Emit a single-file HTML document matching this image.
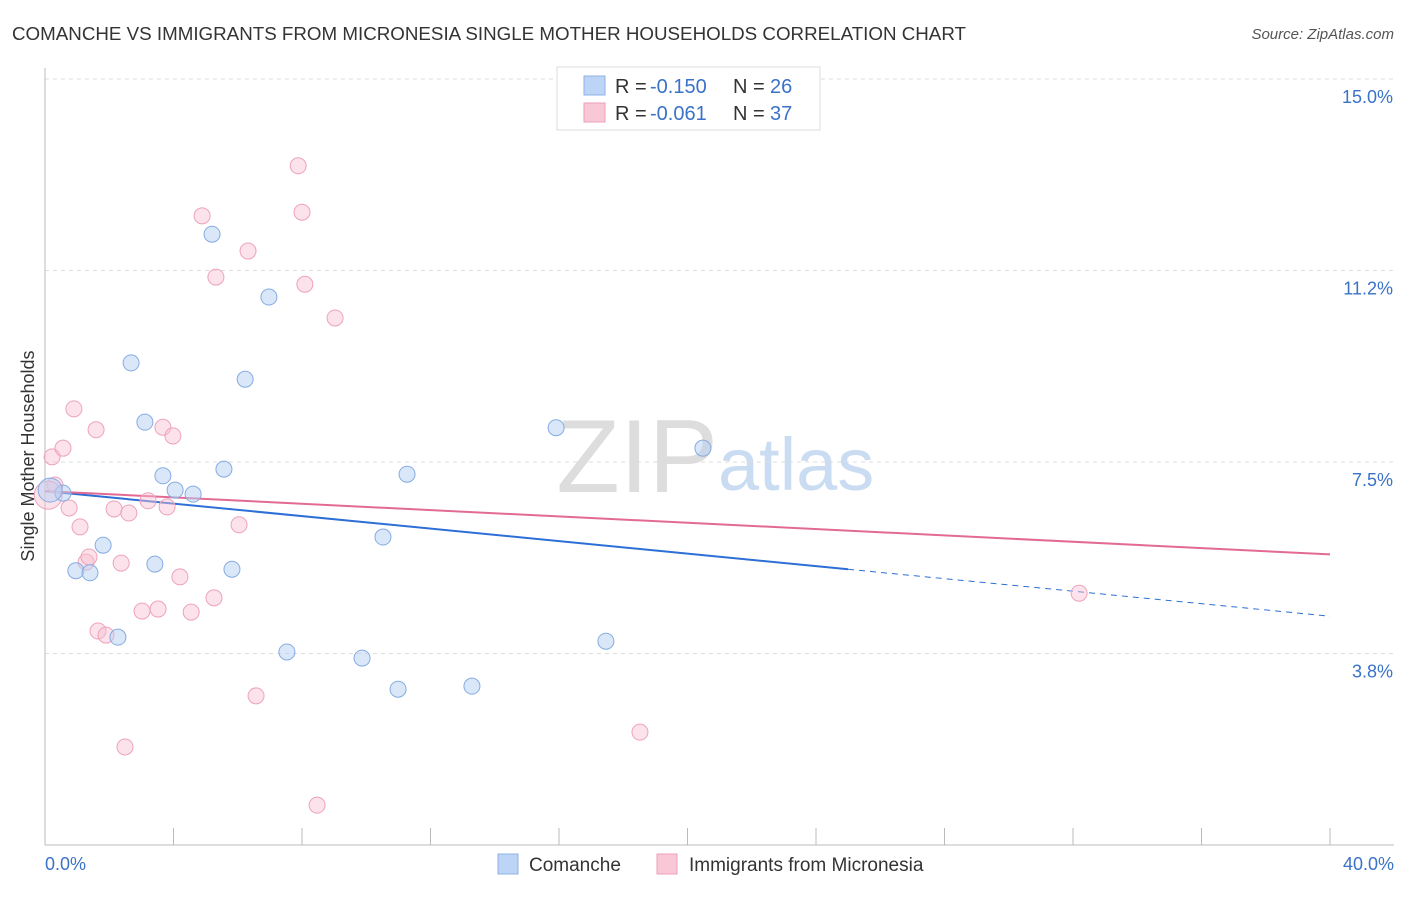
<!DOCTYPE html>
<html><head><meta charset="utf-8"><style>
body{margin:0;background:#fff;font-family:"Liberation Sans",sans-serif;}
svg text{font-family:"Liberation Sans",sans-serif;}
</style></head><body>
<svg id="c" width="1406" height="892">
<text x="12" y="40" font-size="18" fill="#333" textLength="954" lengthAdjust="spacingAndGlyphs">COMANCHE VS IMMIGRANTS FROM MICRONESIA SINGLE MOTHER HOUSEHOLDS CORRELATION CHART</text>
<text x="1394" y="39" font-size="15" fill="#555" text-anchor="end" font-style="italic">Source: ZipAtlas.com</text>
<text x="718" y="492" font-size="104" fill="#ddd" text-anchor="end" font-family="Liberation Serif">ZIP</text>
<text x="718" y="490" font-size="74" fill="#c9dcf2">atlas</text>
<text transform="translate(34,456) rotate(-90)" font-size="18" fill="#333" text-anchor="middle">Single Mother Households</text>
<g id="grid"></g><g id="trend"></g><g id="pts"></g>
<g>
<rect x="557" y="67" width="263" height="63" fill="#fff" stroke="#ddd"/>
<rect x="584" y="76" width="21" height="19" fill="#bcd4f5" stroke="#8fb2e6"/>
<rect x="584" y="103" width="21" height="19" fill="#f9c8d6" stroke="#ee9fb8"/>
<text x="615" y="93" font-size="20" fill="#333">R =</text>
<text x="650" y="93" font-size="20" fill="#3a72c8">-0.150</text>
<text x="733" y="93" font-size="20" fill="#333">N =</text>
<text x="770" y="93" font-size="20" fill="#3a72c8">26</text>
<text x="615" y="120" font-size="20" fill="#333">R =</text>
<text x="650" y="120" font-size="20" fill="#3a72c8">-0.061</text>
<text x="733" y="120" font-size="20" fill="#333">N =</text>
<text x="770" y="120" font-size="20" fill="#3a72c8">37</text>
</g>
<g>
<rect x="498" y="854" width="20" height="20" fill="#bcd4f5" stroke="#8fb2e6"/>
<text x="529" y="871" font-size="19" fill="#333">Comanche</text>
<rect x="657" y="854" width="20" height="20" fill="#f9c8d6" stroke="#ee9fb8"/>
<text x="689" y="871" font-size="19" fill="#333">Immigrants from Micronesia</text>
</g>
</svg>
<script>
const yTicks=[3.75,7.5,11.25,15];
const yTickLabels=["3.8%","7.5%","11.2%","15.0%"];
const xTickLabels=["0.0%","40.0%"];
const comX=[0.56,0.96,1.40,1.81,2.27,2.68,3.11,3.42,3.67,4.05,4.61,5.20,5.57,5.82,6.23,6.97,7.53,9.87,10.52,10.99,11.27,13.29,15.91,17.46,20.48,0.16];
const comY=[6.89,5.37,5.33,5.87,4.07,9.44,8.28,5.50,7.23,6.95,6.87,11.96,7.36,5.40,9.12,10.73,3.78,3.66,6.03,3.05,7.26,3.11,8.17,3.99,7.77,6.95];
const micX=[0.22,0.56,0.31,0.75,0.90,1.09,1.28,1.37,1.59,1.65,1.90,2.15,2.37,2.49,2.61,3.02,3.21,3.52,3.67,3.80,3.98,4.20,4.55,4.89,5.26,5.32,6.04,6.32,6.57,7.88,8.00,8.09,8.47,9.03,18.52,32.19,0.1];
const micY=[7.60,7.77,7.05,6.60,8.54,6.23,5.54,5.64,8.13,4.19,4.11,6.58,5.52,1.92,6.50,4.58,6.74,4.62,8.18,6.62,8.01,5.25,4.56,12.32,4.84,11.12,6.27,11.63,2.92,13.30,12.39,10.98,0.78,10.32,2.21,4.93,6.85];
const comTrend=[6.93,4.48]; const micTrend=[6.93,5.69];
const X=v=>45+v*32.125, Y=v=>845-v*51.07;
const NS="http://www.w3.org/2000/svg";
function mk(t,a,p){const e=document.createElementNS(NS,t);for(const k in a)e.setAttribute(k,a[k]);p.appendChild(e);return e;}
const g=document.getElementById('grid');
yTicks.forEach((v,i)=>{
 const l=mk('line',{x1:45,x2:1394,y1:Y(v),y2:Y(v),stroke:'#ddd','stroke-dasharray':'4,4'},g);
 
 
 const t=mk('text',{x:1393,y:Y(v)+24,'font-size':18,fill:'#3a72c8','text-anchor':'end'},g);t.textContent=yTickLabels[i];
 
 
});
mk('line',{x1:45,x2:45,y1:68,y2:845,stroke:'#bbb'},g);
mk('line',{x1:45,x2:1394,y1:845,y2:845,stroke:'#bbb'},g);
for(let i=0;i<=10;i++){mk('line',{x1:X(i*4),x2:X(i*4),y1:828,y2:845,stroke:'#bbb'},g);}
[[0,'start',45],[40,'end',1394]].forEach((d,i)=>{const t=mk('text',{x:d[2],y:870,'font-size':18,fill:'#3a72c8','text-anchor':d[1]},g);t.textContent=xTickLabels[i];
 
 });
const tr=document.getElementById('trend');
const cy=x=>comTrend[0]+(comTrend[1]-comTrend[0])*x/40;
let l1=mk('line',{x1:X(0),y1:Y(cy(0)),x2:X(25),y2:Y(cy(25)),stroke:'#2d6fd6','stroke-width':2},tr);


mk('line',{x1:X(25),y1:Y(cy(25)),x2:X(40),y2:Y(cy(40)),stroke:'#2d6fd6','stroke-width':1,'stroke-dasharray':'6,5'},tr);
let l2=mk('line',{x1:X(0),y1:Y(micTrend[0]),x2:X(40),y2:Y(micTrend[1]),stroke:'#e26a94','stroke-width':2},tr);


const p=document.getElementById('pts');
micX.forEach((x,i)=>{const c=mk('circle',{cx:X(x),cy:Y(micY[i]),r:i==36?14:8,fill:'rgba(248,190,208,0.45)',stroke:'#eea3bb','stroke-width':1},p);
 
 });
comX.forEach((x,i)=>{const c=mk('circle',{cx:X(x),cy:Y(comY[i]),r:i==25?12:8,fill:'rgba(182,208,244,0.5)',stroke:'#86ace2','stroke-width':1},p);
 
 });
</script>
</body></html>
